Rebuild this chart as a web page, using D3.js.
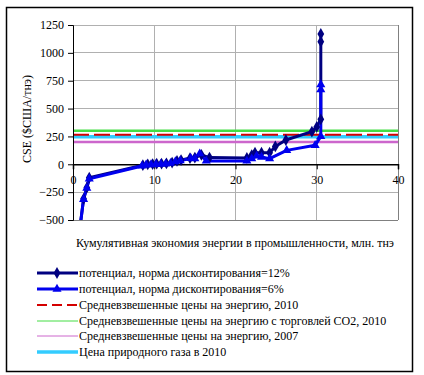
<!DOCTYPE html>
<html><head><meta charset="utf-8">
<script src="https://cdn.jsdelivr.net/npm/d3@7"></script>
<style>body{margin:0;background:#fff}svg text{font-family:"Liberation Serif",serif !important;font-size:12px;fill:#000}</style>
</head><body>
<script>
// data
const x12 = [0.8, 1.3, 1.7, 2.0, 8.6, 9.2, 9.8, 10.3, 10.9, 11.5, 12.2, 12.8, 13.3, 14.4, 15.0, 15.8, 16.8, 21.4, 22.0, 22.4, 23.2, 24.2, 24.9, 26.2, 29.4, 30.0, 30.5, 30.5, 30.5];
const y12 = [-600, -310, -210, -120, -8, 0, 2, 5, 5, 8, 15, 30, 38, 55, 60, 85, 60, 57, 83, 104, 104, 104, 160, 218, 293, 335, 404, 1100, 1170];
const x6 = [0.8, 1.3, 1.7, 2.0, 8.5, 9.0, 9.6, 10.2, 10.8, 11.4, 12.0, 12.6, 13.2, 14.5, 15.0, 15.6, 16.4, 21.4, 22.0, 22.6, 23.2, 24.2, 26.3, 29.8, 30.5, 30.5, 30.5];
const y6 = [-600, -315, -215, -130, -15, -5, -2, 0, 2, 3, 10, 25, 32, 54, 50, 95, 30, 30, 50, 75, 65, 50, 125, 170, 250, 670, 715];
const refNames = ["Средневзвешенные цены на энергию, 2010","Средневзвешенные цены на энергию с торговлей CO2, 2010","Средневзвешенные цены на энергию, 2007","Цена природного газа в 2010"];
const refValues = [265, 300, 200, 248];
const seriesNames = ["потенциал, норма дисконтирования=12%","потенциал, норма дисконтирования=6%"];
const xTicks = [0, 10, 20, 30, 40];
const yTicks = [-500, -250, 0, 250, 500, 750, 1000, 1250];
const xTitle = "Кумулятивная экономия энергии в промышленности, млн. тнэ";
const yTitle = "CSE ($США/тнэ)";

const FONT = "Liberation Serif";
const W = 424, H = 375;
const svg = d3.select("body").append("svg").attr("width", W).attr("height", H)
  .attr("font-family", FONT).attr("font-size", 12);
svg.append("rect").attr("x", 6.5).attr("y", 7.5).attr("width", 406).attr("height", 364)
  .attr("fill", "#fff").attr("stroke", "#000").attr("stroke-width", 1.5);

const x = d3.scaleLinear().domain([0, 40]).range([73, 398]);
const y = d3.scaleLinear().domain([-500, 1250]).range([220, 25]);

// grid
const g = svg.append("g");
g.selectAll(".hg").data(yTicks).join("line")
  .attr("x1", x(0)).attr("x2", x(40)).attr("y1", d => y(d)).attr("y2", d => y(d))
  .attr("stroke", "#b0b0b0").attr("stroke-width", 1).attr("shape-rendering", "crispEdges");
g.selectAll(".vg").data(xTicks.filter(d => d > 0)).join("line")
  .attr("x1", d => x(d)).attr("x2", d => x(d)).attr("y1", y(1250)).attr("y2", y(-500))
  .attr("stroke", d => d === 40 ? "#808080" : "#b0b0b0").attr("stroke-width", 1).attr("shape-rendering", "crispEdges");
g.append("line").attr("x1", x(0)).attr("x2", x(40)).attr("y1", y(-500)).attr("y2", y(-500))
  .attr("stroke", "#808080").attr("shape-rendering", "crispEdges");

// reference lines
const refColors = ["#d40000", "#44dd44", "#cc66cc", "#33ccff"];
const refWidths = [2, 2.5, 2.5, 3.5];
const refOrder = [3, 2, 1, 0];
refOrder.forEach(i => {
  svg.append("line").attr("x1", x(0)).attr("x2", x(40)).attr("y1", y(refValues[i])).attr("y2", y(refValues[i]))
    .attr("stroke", refColors[i]).attr("stroke-width", refWidths[i])
    .attr("stroke-dasharray", i === 0 ? "16,5" : null);
});

// axes
const yAxis = svg.append("g").attr("transform", `translate(${x(0)},0)`)
  .call(d3.axisLeft(y).tickValues(yTicks).tickSize(5).tickPadding(4).tickFormat(d3.format("d")));
yAxis.attr("font-family", FONT).attr("font-size", 12);
yAxis.selectAll("text").attr("fill", "#000");
yAxis.select(".domain").attr("stroke", "#000");
yAxis.selectAll(".tick line").attr("stroke", "#000");

const xAxis = svg.append("g").attr("transform", `translate(0,${y(0)})`)
  .call(d3.axisBottom(x).tickValues(xTicks).tickSize(5).tickPadding(6).tickFormat(d3.format("d")));
xAxis.attr("font-family", FONT).attr("font-size", 12);
xAxis.selectAll("text").attr("fill", "#000");
xAxis.select(".domain").attr("stroke", "#000").attr("stroke-width", 1.5);
xAxis.selectAll(".tick line").attr("stroke", "#000");

// series
svg.append("clipPath").attr("id", "clip").append("rect")
  .attr("x", x(0)).attr("y", y(1250) - 10).attr("width", x(40) - x(0)).attr("height", y(-500) - y(1250) + 10);
const plot = svg.append("g").attr("clip-path", "url(#clip)");
const line = d3.line().x(d => x(d[0])).y(d => y(d[1]));
const d12 = x12.map((v, i) => [v, y12[i]]);
const d6 = x6.map((v, i) => [v, y6[i]]);
const c12 = "#000080", c6 = "#0000ee";
plot.append("path").datum(d12).attr("d", line).attr("fill", "none").attr("stroke", c12).attr("stroke-width", 3).attr("stroke-linejoin", "round");
plot.append("path").datum(d6).attr("d", line).attr("fill", "none").attr("stroke", c6).attr("stroke-width", 3).attr("stroke-linejoin", "round");
const diamond = d3.symbol().type(d3.symbolDiamond).size(40);
const tri = d3.symbol().type(d3.symbolTriangle).size(36);
plot.selectAll(".m12").data(d12).join("path").attr("d", diamond)
  .attr("transform", d => `translate(${x(d[0])},${y(d[1])})`).attr("fill", c12);
plot.selectAll(".m6").data(d6).join("path").attr("d", tri)
  .attr("transform", d => `translate(${x(d[0])},${y(d[1])})`).attr("fill", c6);

// titles
svg.append("text").attr("x", 235).attr("y", 247).attr("text-anchor", "middle").text(xTitle);
svg.append("text").attr("transform", "translate(31,119) rotate(-90)").attr("text-anchor", "middle").text(yTitle);

// legend
const legY = [273, 289, 305, 321, 336, 352];
const legNames = seriesNames.concat(refNames);
const legColors = [c12, c6].concat(refColors);
const legWidths = [3, 3, 2, 1, 1, 3.5];
legNames.forEach((n, i) => {
  svg.append("line").attr("x1", 37).attr("x2", 78).attr("y1", legY[i]).attr("y2", legY[i])
    .attr("stroke", legColors[i]).attr("stroke-width", legWidths[i])
    .attr("stroke-dasharray", i === 2 ? "10,5" : null);
  if (i === 0) svg.append("path").attr("d", diamond).attr("transform", `translate(57,${legY[i]})`).attr("fill", c12);
  if (i === 1) svg.append("path").attr("d", tri).attr("transform", `translate(57,${legY[i]})`).attr("fill", c6);
  svg.append("text").attr("x", 79).attr("y", legY[i] + 4).text(n);
});
</script>
</body></html>
